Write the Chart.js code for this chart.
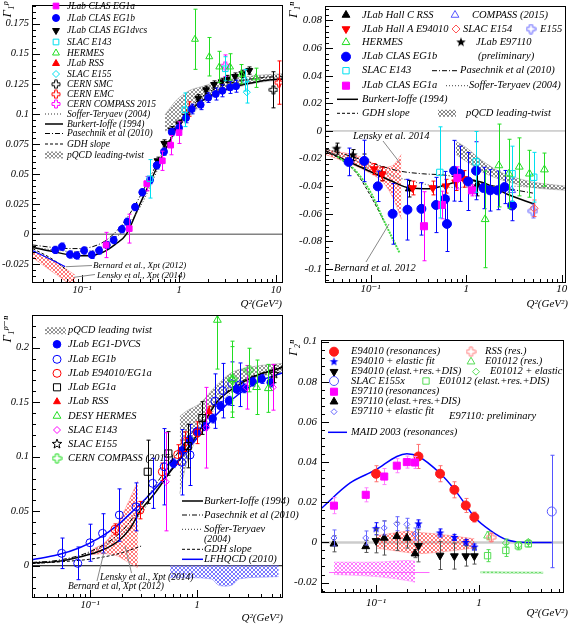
<!DOCTYPE html>
<html>
<head>
<meta charset="utf-8">
<title>Gamma_1 and Gamma_2 moments</title>
<script src="https://cdn.jsdelivr.net/npm/chart.js@4.4.1/dist/chart.umd.min.js"></script>
<style>
  html, body { margin: 0; padding: 0; background: #fff; }
  #page { position: relative; width: 572px; height: 625px; overflow: hidden; }
  #page canvas { position: absolute; left: 0; top: 0; }
</style>
</head>
<body>
<div id="page">
  <canvas id="g1" width="572" height="625"></canvas>
  <canvas id="g2" width="572" height="625"></canvas>
  <canvas id="g3" width="572" height="625"></canvas>
  <canvas id="g4" width="572" height="625"></canvas>
</div>
<script>
// ---------------- tick labels ----------------
const decadeTicks = [0.1, 1, 10];
const decadeLabels = ['10⁻¹', '1', '10'];
const p1YTicks = [-0.025, 0, 0.025, 0.05, 0.075, 0.1, 0.125, 0.15, 0.175];
const p2YTicks = [-0.1, -0.08, -0.06, -0.04, -0.02, 0, 0.02, 0.04, 0.06, 0.08];
const p3YTicks = [0, 0.05, 0.1, 0.15, 0.2];
const p4YTicks = [-0.02, 0, 0.02, 0.04, 0.06, 0.08, 0.1];

// ---------------- panel 1 : Gamma_1 proton ----------------
const p1EG1aQ2 = [0.177, 0.307, 0.465, 0.673, 0.82, 1.0];
const p1EG1aG = [-0.009, 0.0046, 0.042, 0.061, 0.074, 0.0844];
const p1EG1aErr = [0.0105, 0.012, 0.006, 0.008, 0.008, 0.009];
const p1EG1bQ2 = [0.053, 0.062, 0.075, 0.088, 0.105, 0.126, 0.150, 0.180, 0.212, 0.257, 0.293, 0.352, 0.418, 0.502, 0.589, 0.700, 0.841, 1.0, 1.18, 1.35, 1.67, 2.0, 2.39, 2.80, 3.36, 3.87];
const p1EG1bG = [-0.0131, -0.0104, -0.0169, -0.0177, -0.0136, -0.0172, -0.0136, -0.009, -0.0049, 0.0041, 0.0103, 0.0225, 0.0348, 0.0449, 0.0572, 0.0686, 0.0849, 0.0884, 0.0966, 0.104, 0.1075, 0.1135, 0.1165, 0.1192, 0.122, 0.123];
const p1EG1bErr = [0.003, 0.003, 0.003, 0.003, 0.003, 0.003, 0.003, 0.003, 0.003, 0.003, 0.003, 0.003, 0.003, 0.003, 0.003, 0.003, 0.003, 0.004, 0.004, 0.004, 0.004, 0.004, 0.005, 0.005, 0.005, 0.005];
const p1DvcsQ2 = [0.60, 0.705, 0.84, 1.0, 1.18, 1.58, 1.9, 2.3, 2.75, 3.15, 3.78, 4.49, 5.3];
const p1DvcsG = [0.061, 0.0754, 0.0865, 0.0917, 0.098, 0.113, 0.120, 0.1244, 0.1266, 0.129, 0.131, 0.1333, 0.136];
const p1DvcsErr = [0.003, 0.003, 0.003, 0.003, 0.003, 0.003, 0.003, 0.003, 0.003, 0.003, 0.003, 0.003, 0.003];
const p1E143Q2 = [0.5, 1.15, 3.0];
const p1E143G = [0.046, 0.1034, 0.1375];
const p1E143Err = [0.016, 0.014, 0.010];
const p1HermesQ2 = [1.46, 2.05, 2.6, 3.36, 4.4, 6.2];
const p1HermesG = [0.162, 0.1475, 0.139, 0.139, 0.133, 0.130];
const p1HermesErr = [0.025, 0.016, 0.013, 0.011, 0.008, 0.008];
const p1RssQ2 = [1.28], p1RssG = [0.104], p1RssErr = [0.006];
const p1E155Q2 = [4.8, 5.0], p1E155G = [0.128, 0.118], p1E155Err = [0.009, 0.009];
const p1SmcQ2 = [9.4], p1SmcG = [0.120], p1SmcErr = [0.015];
const p1EmcQ2 = [10.7], p1EmcG = [0.126], p1EmcErr = [0.018];
const p1CompassQ2 = [3.0], p1CompassG = [0.140], p1CompassErr = [0.009];

const p1BurkertQ2 = [0.031, 0.05, 0.08, 0.115, 0.16, 0.22, 0.287, 0.395, 0.55, 0.776, 1.0, 1.2, 1.6, 2.2, 3.2, 5.0, 8, 11.8];
const p1BurkertG = [-0.011, -0.0145, -0.0175, -0.018, -0.0155, -0.0085, 0, 0.025, 0.05, 0.075, 0.092, 0.1, 0.109, 0.116, 0.121, 0.125, 0.128, 0.129];
const p1SofferQ2 = [0.031, 0.05, 0.08, 0.12, 0.17, 0.23, 0.3, 0.4, 0.52, 0.7, 1.0, 1.5, 2.5, 4, 7, 11.8];
const p1SofferG = [-0.011, -0.013, -0.0145, -0.014, -0.010, -0.002, 0.008, 0.023, 0.042, 0.066, 0.09, 0.108, 0.12, 0.126, 0.13, 0.132];
const p1PasechnikQ2 = [0.031, 0.05, 0.08, 0.12, 0.17, 0.23, 0.3, 0.4, 0.5, 0.7, 1.0, 1.5, 2.5, 4, 7, 11.8];
const p1PasechnikG = [-0.009, -0.011, -0.012, -0.011, -0.006, 0.003, 0.015, 0.032, 0.047, 0.07, 0.092, 0.11, 0.122, 0.127, 0.13, 0.131];
const p1GdhQ2 = [0.031, 0.05, 0.07];
const p1GdhG = [-0.012, -0.021, -0.030];
const p1BernardQ2 = [0.0305, 0.045, 0.067];
const p1BernardG = [-0.0135, -0.020, -0.027];
const p1LenskyQ2 = [0.0305, 0.045, 0.06, 0.085];
const p1LenskyHi = [-0.014, -0.020, -0.026, -0.034];
const p1LenskyLo = [-0.019, -0.029, -0.036, -0.045];
const p1PqcdQ2 = [0.717, 0.946, 1.3, 1.78, 2.64, 5.8, 11.8];
const p1PqcdHi = [0.0993, 0.1116, 0.1197, 0.123, 0.1274, 0.1317, 0.1334];
const p1PqcdLo = [0.0857, 0.0893, 0.098, 0.1089, 0.1176, 0.1252, 0.1285];

// ---------------- panel 2 : Gamma_1 neutron ----------------
const p2RssQ2 = [0.254, 1.31], p2RssG = [-0.0418, -0.039], p2RssErr = [0.006, 0.008];
const p2E94010Q2 = [0.109, 0.132, 0.275, 0.448, 0.614, 0.776, 0.946];
const p2E94010G = [-0.0276, -0.0312, -0.0413, -0.0413, -0.040, -0.0371, -0.0347];
const p2E94010Err = [0.004, 0.005, 0.005, 0.005, 0.005, 0.006, 0.006];
const p2HermesQ2 = [1.58, 2.2, 2.8, 3.6, 4.6, 6.6];
const p2HermesG = [-0.064, -0.025, -0.031, -0.026, -0.031, -0.028];
const p2HermesErr = [0.035, 0.03, 0.025, 0.021, 0.017, 0.012];
const p2EG1bQ2 = [0.0588, 0.0858, 0.119, 0.170, 0.243, 0.340, 0.484, 0.60, 0.63, 0.748, 0.86, 1.05, 1.27, 1.52, 1.78, 2.13, 2.53, 3.03];
const p2EG1bG = [-0.0224, -0.0217, -0.0401, -0.060, -0.057, -0.0564, -0.0536, -0.0493, -0.0673, -0.0288, -0.031, -0.0366, -0.0288, -0.0413, -0.043, -0.043, -0.0406, -0.054];
const p2EG1bErr = [0.010, 0.015, 0.011, 0.022, 0.022, 0.019, 0.020, 0.020, 0.020, 0.022, 0.020, 0.021, 0.021, 0.015, 0.015, 0.014, 0.012, 0.011];
const p2E143Q2 = [0.53, 1.27, 3.03, 5.1];
const p2E143G = [-0.030, -0.0224, -0.031, -0.0335];
const p2E143Err = [0.033, 0.022, 0.02, 0.018];
const p2EG1aQ2 = [0.362, 0.558, 0.81, 1.15];
const p2EG1aG = [-0.069, -0.0536, -0.034, -0.043];
const p2EG1aErr = [0.025, 0.010, 0.008, 0.004];
const p2E97110Q2 = [0.044, 0.065, 0.086, 0.13];
const p2E97110G = [-0.0128, -0.0175, -0.0217, -0.031];
const p2E97110Err = [0.004, 0.004, 0.005, 0.005];
const p2CompassQ2 = [3.0], p2CompassG = [-0.043], p2CompassErr = [0.008];
const p2E154Q2 = [5.14], p2E154G = [-0.056], p2E154Err = [0.006];
const p2E155Q2 = [5.0], p2E155G = [-0.058], p2E155Err = [0.005];

const p2BurkertQ2 = [0.0334, 0.073, 0.161, 0.258, 0.414, 0.665, 0.984, 1.46, 2.74, 5.14];
const p2BurkertG = [-0.0142, -0.0252, -0.0359, -0.0413, -0.0418, -0.0383, -0.0354, -0.0371, -0.046, -0.0529];
const p2PasechnikQ2 = [0.0334, 0.06, 0.1, 0.2, 0.35, 0.6, 1.0, 2.0, 5.0];
const p2PasechnikG = [-0.013, -0.018, -0.023, -0.029, -0.031, -0.032, -0.035, -0.04, -0.045];
const p2SofferQ2 = [0.0334, 0.06, 0.1, 0.2, 0.4, 0.8, 1.5, 3, 6, 11.1];
const p2SofferG = [-0.015, -0.02, -0.026, -0.034, -0.039, -0.041, -0.040, -0.040, -0.041, -0.042];
const p2GdhQ2 = [0.0334, 0.05, 0.07, 0.1, 0.141];
const p2GdhG = [-0.0147, -0.021, -0.03, -0.047, -0.0666];
const p2BernardQ2 = [0.045, 0.07, 0.1, 0.14, 0.2];
const p2BernardG = [-0.0185, -0.029, -0.0445, -0.066, -0.088];
const p2LenskyQ2 = [0.0334, 0.073, 0.13, 0.17, 0.21];
const p2LenskyHi = [-0.0135, -0.018, -0.026, -0.025, -0.017];
const p2LenskyLo = [-0.017, -0.026, -0.036, -0.048, -0.064];
const p2PqcdQ2 = [0.78, 1.0, 1.5, 2.5, 5, 11.1];
const p2PqcdHi = [-0.0075, -0.012, -0.022, -0.031, -0.037, -0.040];
const p2PqcdLo = [-0.017, -0.022, -0.030, -0.036, -0.041, -0.043];

// ---------------- panel 3 : Gamma_1 p-n ----------------
const p3DvcsQ2 = [0.601, 0.719, 0.847, 0.99, 1.19, 1.40, 1.66, 1.99, 2.35, 2.77, 3.31, 4.02, 4.88];
const p3DvcsG = [0.094, 0.1055, 0.1153, 0.123, 0.128, 0.135, 0.1465, 0.1514, 0.1618, 0.1627, 0.1688, 0.1713, 0.168];
const p3DvcsErr = [0.004, 0.004, 0.004, 0.004, 0.004, 0.004, 0.004, 0.004, 0.004, 0.004, 0.004, 0.004, 0.004];
const p3EG1bQ2 = [0.0544, 0.0768, 0.1, 0.131, 0.188, 0.269, 0.385, 0.494, 0.719, 0.86, 1.47, 1.74, 2.11, 2.52];
const p3EG1bG = [0.0114, 0.0022, 0.0211, 0.0297, 0.0465, 0.054, 0.0756, 0.0908, 0.0949, 0.1016, 0.151, 0.1606, 0.167, 0.166];
const p3EG1bErr = [0.014, 0.015, 0.017, 0.018, 0.024, 0.022, 0.023, 0.035, 0.03, 0.028, 0.025, 0.025, 0.02, 0.02];
const p3E94010Q2 = [0.171, 0.293, 0.474, 0.66, 0.773, 1.01];
const p3E94010G = [0.0334, 0.051, 0.0862, 0.102, 0.1138, 0.122];
const p3E94010Err = [0.005, 0.008, 0.008, 0.009, 0.009, 0.01];
const p3EG1aQ2 = [0.346, 0.54, 0.82, 1.12];
const p3EG1aG = [0.0862, 0.103, 0.1098, 0.1355];
const p3EG1aErr = [0.029, 0.02, 0.02, 0.015];
const p3RssQ2 = [1.29], p3RssG = [0.1413], p3RssErr = [0.005];
const p3HermesQ2 = [1.55, 2.14, 3.6, 4.64];
const p3HermesG = [0.2254, 0.171, 0.1637, 0.1627];
const p3HermesErr = [0.045, 0.035, 0.025, 0.022];
const p3E143Q2 = [0.51, 1.22, 2.9, 5.1];
const p3E143G = [0.077, 0.1266, 0.1637, 0.1637];
const p3E143Err = [0.045, 0.037, 0.02, 0.021];
const p3E155Q2 = [5.25], p3E155G = [0.1759], p3E155Err = [0.008];
const p3CompassQ2 = [2.14, 3.06], p3CompassG = [0.171, 0.1795], p3CompassErr = [0.03, 0.02];

const p3BurkertQ2 = [0.0287, 0.05, 0.08, 0.12, 0.18, 0.24, 0.293, 0.4, 0.55, 0.72, 1.0, 1.53, 2.2, 3.5, 6.36];
const p3BurkertG = [0.0025, 0.004, 0.008, 0.013, 0.022, 0.035, 0.05, 0.066, 0.085, 0.1, 0.12, 0.15, 0.163, 0.174, 0.182];
const p3LfQ2 = [0.0287, 0.05, 0.08, 0.12, 0.18, 0.25, 0.35, 0.5, 0.7, 1.0, 1.5, 2.5, 4, 6.36];
const p3LfG = [0.0055, 0.01, 0.0165, 0.025, 0.037, 0.05, 0.064, 0.081, 0.099, 0.117, 0.138, 0.158, 0.17, 0.177];
const p3PasechnikQ2 = [0.0287, 0.05, 0.1, 0.2, 0.3, 0.45, 0.7, 1.0, 1.5, 2.5, 6.36];
const p3PasechnikG = [0.003, 0.005, 0.013, 0.032, 0.055, 0.08, 0.107, 0.128, 0.15, 0.168, 0.183];
const p3SofferQ2 = [0.0287, 0.05, 0.1, 0.2, 0.3, 0.45, 0.7, 1.0, 1.5, 2.5, 6.36];
const p3SofferG = [0.002, 0.004, 0.012, 0.029, 0.048, 0.074, 0.1, 0.12, 0.145, 0.165, 0.181];
const p3GdhQ2 = [0.0287, 0.06, 0.1, 0.15, 0.2, 0.3];
const p3GdhG = [0.002, 0.004, 0.006, 0.009, 0.012, 0.018];
const p3LenskyQ2 = [0.1, 0.14, 0.18, 0.22, 0.28];
const p3LenskyHi = [0.014, 0.022, 0.038, 0.055, 0.078];
const p3LenskyLo = [0.010, 0.011, 0.009, 0.004, -0.002];
const p3PqcdQ2 = [0.69, 0.8, 1.07, 1.5, 2.18, 3.5, 6.36];
const p3PqcdHi = [0.137, 0.142, 0.149, 0.165, 0.178, 0.183, 0.1857];
const p3PqcdLo = [0.066, 0.094, 0.1245, 0.148, 0.1658, 0.173, 0.1765];
const p3HtQ2 = [0.56, 1.35, 1.6, 2.1, 2.5, 5.8];
const p3HtHi = [0, 0, 0, 0, 0, 0];
const p3HtLo = [-0.011, -0.012, -0.018, -0.018, -0.012, -0.010];

// ---------------- panel 4 : Gamma_2 neutron ----------------
const p4E94010Q2 = [0.1, 0.258, 0.418, 0.576, 0.743, 0.90];
const p4E94010ResG = [0.0342, 0.0428, 0.0342, 0.0262, 0.0184, 0.0126];
const p4E94010ResErr = [0.004, 0.006, 0.004, 0.004, 0.0035, 0.0025];
const p4E94010ElG = [0.0068, 0.0092, 0.0047, 0.0025, 0.0, -0.0023];
const p4E94010ElErr = [0.003, 0.002, 0.002, 0.0015, 0.0015, 0.0015];
const p4E94010TotG = [0.0008, -0.0017, -0.0065, -0.0068, -0.0068, -0.0068];
const p4E94010TotErr = [0.006, 0.008, 0.007, 0.0065, 0.005, 0.004];
const p4E155xQ2 = [5.08], p4E155xG = [0.0154], p4E155xErr = [0.028];
const p4E97110Q2 = [0.039, 0.0794, 0.12, 0.159, 0.199, 0.239];
const p4E97110ResG = [0.0183, 0.0237, 0.0328, 0.0382, 0.040, 0.0398];
const p4E97110ResErr = [0.004, 0.0035, 0.004, 0.0035, 0.003, 0.003];
const p4E97110TotG = [-0.0007, -0.002, 0.0022, 0.003, 0.0022, -0.0056];
const p4E97110TotErr = [0.004, 0.003, 0.0085, 0.007, 0.005, 0.002];
const p4E97110ElG = [0.0022, 0.0022, 0.0072, 0.0093, 0.009, 0.0042];
const p4E97110ElErr = [0.004, 0.0035, 0.0035, 0.0035, 0.003, 0.003];
const p4RssQ2 = [1.31], p4RssG = [0.0025], p4RssErr = [0.002];
const p4E01012ResQ2 = [1.21], p4E01012ResG = [0.0033], p4E01012ResErr = [0.002];
const p4E01012ElQ2 = [1.82, 2.41, 3.01];
const p4E01012ElG = [-0.0003, -0.0012, 0.0003];
const p4E01012ElErr = [0.002, 0.0015, 0.001];
const p4E01012TotQ2 = [1.21, 1.82, 2.41, 3.01];
const p4E01012TotG = [-0.0066, -0.004, -0.0017, -0.0007];
const p4E01012TotErr = [0.003, 0.003, 0.002, 0.0015];
const p4MaidQ2 = [0.0292, 0.056, 0.1, 0.159, 0.199, 0.258, 0.418, 0.576, 0.743, 0.9, 1.28, 1.86, 2.9, 5.08];
const p4MaidG = [0.0168, 0.0296, 0.0362, 0.0428, 0.0441, 0.0428, 0.0344, 0.0264, 0.0186, 0.0126, 0.006, 0.0013, 0.0, 0.0];
const p4RedBandQ2 = [0.1, 0.2, 0.26, 0.42, 0.9];
const p4RedBandHi = [0.0033, 0.0055, 0.005, 0.004, 0.0018];
const p4RedBandLo = [-0.0028, -0.005, -0.0056, -0.0048, -0.0028];
const p4MagBandQ2 = [0.039, 0.1, 0.2, 0.239];
const p4MagBandHi = [-0.0098, -0.0098, -0.009, -0.0094];
const p4MagBandLo = [-0.016, -0.017, -0.019, -0.0199];
const p4MagLineQ2 = [0.035, 0.33], p4MagLineG = [-0.015, -0.015];
const p4GrnBandQ2 = [1.03, 4.2];
const p4GrnBandHi = [-0.0146, -0.0148];
const p4GrnBandLo = [-0.0152, -0.0154];

// ---------------- helpers ----------------
const FONT = '"Liberation Serif", "DejaVu Serif", serif';
const W = 572, H = 625;
Chart.defaults.font.family = FONT;

function xy(xs, ys) { return xs.map(function (x, i) { return { x: x, y: ys[i] }; }); }

function hatch(ctx, color) {
  const c = document.createElement('canvas');
  c.width = 4; c.height = 4;
  const g = c.getContext('2d');
  g.strokeStyle = color; g.lineWidth = 0.7;
  g.beginPath();
  g.moveTo(0, 0); g.lineTo(4, 4);
  g.moveTo(4, 0); g.lineTo(0, 4);
  g.stroke();
  return ctx.createPattern(c, 'repeat');
}

function starImg(color, r, filled) {
  const s = Math.ceil(r * 2 + 2), c = document.createElement('canvas');
  c.width = s; c.height = s;
  const g = c.getContext('2d');
  g.beginPath();
  for (let k = 0; k < 10; k++) {
    const a = -Math.PI / 2 + k * Math.PI / 5, rr = k % 2 ? r * 0.42 : r;
    g.lineTo(s / 2 + rr * Math.cos(a), s / 2 + rr * Math.sin(a));
  }
  g.closePath();
  if (filled) { g.fillStyle = color; g.fill(); } else { g.strokeStyle = color; g.lineWidth = 1; g.stroke(); }
  return c;
}

function crossImg(color, r) {
  const s = Math.ceil(r * 2 + 2), c = document.createElement('canvas');
  c.width = s; c.height = s;
  const g = c.getContext('2d'), o = s / 2, a = r * 0.35;
  g.strokeStyle = color; g.lineWidth = 1;
  g.beginPath();
  g.moveTo(o - a, o - r); g.lineTo(o + a, o - r); g.lineTo(o + a, o - a); g.lineTo(o + r, o - a);
  g.lineTo(o + r, o + a); g.lineTo(o + a, o + a); g.lineTo(o + a, o + r); g.lineTo(o - a, o + r);
  g.lineTo(o - a, o + a); g.lineTo(o - r, o + a); g.lineTo(o - r, o - a); g.lineTo(o - a, o - a);
  g.closePath(); g.stroke();
  return c;
}

function marks(label, xs, ys, errs, color, style, filled, r, extra) {
  return Object.assign({
    label: label, data: xy(xs, ys), errors: errs, showLine: false, order: 0,
    pointStyle: style, pointRadius: r, pointRotation: 0,
    pointBackgroundColor: filled ? color : 'rgba(0,0,0,0)', pointBorderColor: color, pointBorderWidth: 1,
    borderColor: color, backgroundColor: color, errColor: color
  }, extra || {});
}

function curve(label, xs, ys, color, dash, width) {
  return {
    label: label, data: xy(xs, ys), showLine: true, pointRadius: 0, order: 5,
    borderColor: color, borderWidth: width || 1, borderDash: dash || [],
    cubicInterpolationMode: 'monotone', fill: false
  };
}

function band(label, xs, hi, lo, pattern, edge) {
  return [
    { label: label, data: xy(xs, hi), showLine: true, pointRadius: 0, order: 10, swatch: pattern,
      borderColor: edge, borderWidth: 0.5, tension: 0.3, fill: false },
    { label: label + ' lo', data: xy(xs, lo), showLine: true, pointRadius: 0, order: 10,
      borderColor: edge, borderWidth: 0.5, tension: 0.3, fill: '-1', backgroundColor: pattern }
  ];
}

function fmtY(v) { return String(Math.round(v * 1000) / 1000); }
function fmtX(v) {
  const i = decadeTicks.findIndex(function (d) { return Math.abs(d - v) < d * 1e-6; });
  return i < 0 ? '' : decadeLabels[i];
}

// frame, tick marks, zero line, error bars, legends and labels
const deco = {
  id: 'deco',
  beforeDatasetsDraw(chart, args, o) {
    const ctx = chart.ctx, a = chart.chartArea, py = chart.scales.y.getPixelForValue(0);
    ctx.save();
    ctx.strokeStyle = o.zeroColor; ctx.lineWidth = o.zeroWidth;
    ctx.beginPath(); ctx.moveTo(a.left, py); ctx.lineTo(a.right, py); ctx.stroke();
    ctx.restore();
  },
  beforeDatasetDraw(chart, args) {
    const ds = chart.data.datasets[args.index];
    if (!ds.errors) return;
    const ctx = chart.ctx, a = chart.chartArea, ys = chart.scales.y;
    ctx.save();
    ctx.beginPath(); ctx.rect(a.left, a.top, a.right - a.left, a.bottom - a.top); ctx.clip();
    ctx.strokeStyle = ds.errColor; ctx.lineWidth = 1;
    args.meta.data.forEach(function (pt, i) {
      const e = ds.errors[i];
      if (!e) return;
      const v = ds.data[i].y, y1 = ys.getPixelForValue(v + e), y2 = ys.getPixelForValue(v - e);
      const x = Math.round(pt.x) + 0.5;
      ctx.beginPath();
      ctx.moveTo(x, y1); ctx.lineTo(x, y2);
      ctx.moveTo(x - 2, y1); ctx.lineTo(x + 2, y1);
      ctx.moveTo(x - 2, y2); ctx.lineTo(x + 2, y2);
      ctx.stroke();
    });
    ctx.restore();
  },
  afterDatasetsDraw(chart, args, o) {
    const ctx = chart.ctx, a = chart.chartArea, xs = chart.scales.x, ys = chart.scales.y;
    ctx.save();
    ctx.strokeStyle = '#000'; ctx.lineWidth = 1;
    ctx.beginPath();
    const e0 = Math.floor(Math.log10(xs.min)), e1 = Math.ceil(Math.log10(xs.max));
    for (let e = e0; e <= e1; e++) {
      for (let k = 1; k < 10; k++) {
        const v = k * Math.pow(10, e);
        if (v < xs.min || v > xs.max) continue;
        const px = Math.round(xs.getPixelForValue(v)) + 0.5;
        ctx.moveTo(px, a.bottom); ctx.lineTo(px, a.bottom - (k === 1 ? 8 : 4));
      }
    }
    const step = o.yMinor;
    for (let n = Math.ceil(ys.min / step); n <= Math.floor(ys.max / step); n++) {
      const v = n * step, py = Math.round(ys.getPixelForValue(v)) + 0.5;
      const major = ys.ticks.some(function (t) { return Math.abs(t.value - v) < step / 10; });
      ctx.moveTo(a.left, py); ctx.lineTo(a.left + (major ? 8 : 4), py);
    }
    ctx.stroke();
    ctx.strokeRect(a.left + 0.5, a.top + 0.5, a.right - a.left - 1, a.bottom - a.top - 1);
    ctx.restore();
  },
  afterDraw(chart, args, o) {
    const ctx = chart.ctx;
    const find = function (name) { return chart.data.datasets.find(function (d) { return d.label === name; }); };
    ctx.save();
    ctx.textBaseline = 'middle';
    (o.legend || []).forEach(function (it) {
      const ds = find(it.ds);
      if (it.kind === 'm') {
        ctx.fillStyle = ds.pointBackgroundColor; ctx.strokeStyle = ds.pointBorderColor; ctx.lineWidth = 1;
        const opt = { pointStyle: ds.pointStyle, rotation: ds.pointRotation || 0, radius: ds.pointRadius, borderWidth: 1 };
        if (Chart.helpers && Chart.helpers.drawPoint) Chart.helpers.drawPoint(ctx, opt, it.mx, it.y);
        else { ctx.beginPath(); ctx.arc(it.mx, it.y, ds.pointRadius, 0, 2 * Math.PI); ctx.fill(); ctx.stroke(); }
      } else if (it.kind === 'l') {
        ctx.strokeStyle = ds.borderColor; ctx.lineWidth = ds.borderWidth; ctx.setLineDash(ds.borderDash || []);
        ctx.beginPath(); ctx.moveTo(it.x1, it.y); ctx.lineTo(it.x2, it.y); ctx.stroke();
        ctx.setLineDash([]);
      } else if (it.kind === 'b') {
        ctx.fillStyle = ds.swatch; ctx.fillRect(it.x1, it.y - 3.5, it.x2 - it.x1, 7);
      }
      ctx.fillStyle = '#000';
      ctx.font = 'italic ' + o.legendSize + 'px ' + FONT;
      ctx.textAlign = 'left';
      ctx.fillText(it.t !== undefined ? it.t : it.ds, it.tx, it.y);
    });
    (o.lines || []).forEach(function (l) {
      ctx.strokeStyle = '#888'; ctx.lineWidth = 1; ctx.setLineDash([]);
      ctx.beginPath(); ctx.moveTo(l.x1, l.y1); ctx.lineTo(l.x2, l.y2); ctx.stroke();
    });
    (o.texts || []).forEach(function (t) {
      ctx.save();
      ctx.fillStyle = '#000';
      ctx.font = 'italic ' + t.size + 'px ' + FONT;
      ctx.textAlign = t.align || 'left';
      ctx.translate(t.x, t.y);
      if (t.rot) { ctx.rotate(-Math.PI / 2); ctx.textBaseline = 'alphabetic'; }
      ctx.fillText(t.t, 0, 0);
      ctx.restore();
    });
    ctx.restore();
  }
};

// the y scale box spans [0, area.left] and the x scale box spans [area.bottom, H],
// so tick labels sit inside the clip area of their scale
function makeChart(id, cfg) {
  const a = cfg.area;
  return new Chart(document.getElementById(id), {
    type: 'line',
    data: { datasets: cfg.datasets },
    options: {
      responsive: false, animation: false, events: [],
      layout: { padding: { left: 0, top: a[1], right: W - a[2], bottom: 0 } },
      plugins: { legend: { display: false }, tooltip: { enabled: false }, deco: cfg.deco },
      scales: {
        x: {
          type: 'logarithmic', min: cfg.xRange[0], max: cfg.xRange[1],
          grid: { display: false, drawTicks: false }, border: { display: false },
          afterBuildTicks: function (s) { s.ticks = cfg.xTicks.map(function (v) { return { value: v }; }); },
          afterFit: function (s) { s.height = H - a[3]; s.paddingLeft = 0; s.paddingRight = 0; s.paddingTop = 0; s.paddingBottom = 0; },
          ticks: { autoSkip: false, maxRotation: 0, minRotation: 0, padding: cfg.xPad, color: '#000',
            font: { family: FONT, style: 'italic', size: cfg.tickSize }, callback: fmtX }
        },
        y: {
          min: cfg.yRange[0], max: cfg.yRange[1],
          grid: { display: false, drawTicks: false }, border: { display: false },
          afterBuildTicks: function (s) { s.ticks = cfg.yTicks.map(function (v) { return { value: v }; }); },
          afterFit: function (s) { s.width = a[0]; s.paddingLeft = 0; s.paddingRight = 0; s.paddingTop = 0; s.paddingBottom = 0; },
          ticks: { autoSkip: false, padding: cfg.yPad, color: '#000',
            font: { family: FONT, style: 'italic', size: cfg.tickSize }, callback: fmtY }
        }
      }
    },
    plugins: [deco]
  });
}

const ctx1 = document.getElementById('g1').getContext('2d');
const ctx2 = document.getElementById('g2').getContext('2d');
const ctx3 = document.getElementById('g3').getContext('2d');
const ctx4 = document.getElementById('g4').getContext('2d');

const BLUE = '#0000ff', MAG = '#ff00ff', CYAN = '#00e0f0', GRN = '#22dd22', RED = '#ff0000', BLK = '#000000';

// ---------------- panel 1 ----------------
makeChart('g1', {
  area: [32, 0, 283, 283], xRange: [0.0305, 11.8], yRange: [-0.0406, 0.1905],
  xTicks: decadeTicks, yTicks: p1YTicks, tickSize: 10.5, xPad: 1, yPad: 3,
  datasets: [].concat(
    band('pQCD leading-twist', p1PqcdQ2, p1PqcdHi, p1PqcdLo, hatch(ctx1, '#666'), '#999'),
    band('Lensky et al., Xpt (2014)', p1LenskyQ2, p1LenskyHi, p1LenskyLo, hatch(ctx1, '#ff4040'), '#ff9090'),
    [
      curve('Bernard et al., Xpt (2012)', p1BernardQ2, p1BernardG, BLUE, [], 1.2),
      curve('Soffer-Teryaev (2004)', p1SofferQ2, p1SofferG, '#333', [1, 2], 1),
      curve('Burkert-Ioffe (1994)', p1BurkertQ2, p1BurkertG, BLK, [], 1.5),
      curve('Pasechnik et al (2010)', p1PasechnikQ2, p1PasechnikG, BLK, [5, 2, 1, 2], 1),
      curve('GDH slope', p1GdhQ2, p1GdhG, BLK, [3, 2], 1),
      marks('HERMES', p1HermesQ2, p1HermesG, p1HermesErr, GRN, 'triangle', false, 4),
      marks('SLAC E143', p1E143Q2, p1E143G, p1E143Err, CYAN, 'rect', false, 4),
      marks('SLAC E155', p1E155Q2, p1E155G, p1E155Err, CYAN, 'rectRot', false, 3.5),
      marks('CERN SMC', p1SmcQ2, p1SmcG, p1SmcErr, BLK, crossImg(BLK, 4), false, 4),
      marks('CERN EMC', p1EmcQ2, p1EmcG, p1EmcErr, RED, crossImg(RED, 4), false, 4),
      marks('CERN COMPASS 2015', p1CompassQ2, p1CompassG, p1CompassErr, MAG, crossImg(MAG, 4), false, 4),
      marks('JLab CLAS EG1a', p1EG1aQ2, p1EG1aG, p1EG1aErr, MAG, 'rect', true, 4),
      marks('JLab CLAS EG1b', p1EG1bQ2, p1EG1bG, p1EG1bErr, BLUE, 'circle', true, 3.5),
      marks('JLab CLAS EG1dvcs', p1DvcsQ2, p1DvcsG, p1DvcsErr, BLK, 'triangle', true, 4, { pointRotation: 180 }),
      marks('JLab RSS', p1RssQ2, p1RssG, p1RssErr, RED, 'triangle', true, 4)
    ]),
  deco: {
    zeroColor: '#444', zeroWidth: 1, yMinor: 0.005, legendSize: 9.5,
    legend: [
      { kind: 'm', ds: 'JLab CLAS EG1a', mx: 56, tx: 67, y: 6 },
      { kind: 'm', ds: 'JLab CLAS EG1b', mx: 56, tx: 67, y: 18 },
      { kind: 'm', ds: 'JLab CLAS EG1dvcs', mx: 56, tx: 67, y: 30.5 },
      { kind: 'm', ds: 'SLAC E143', mx: 56, tx: 67, y: 42 },
      { kind: 'm', ds: 'HERMES', mx: 56, tx: 67, y: 53 },
      { kind: 'm', ds: 'JLab RSS', mx: 56, tx: 67, y: 63.5 },
      { kind: 'm', ds: 'SLAC E155', mx: 56, tx: 67, y: 74 },
      { kind: 'm', ds: 'CERN SMC', mx: 56, tx: 67, y: 84.3 },
      { kind: 'm', ds: 'CERN EMC', mx: 56, tx: 67, y: 94.3 },
      { kind: 'm', ds: 'CERN COMPASS 2015', mx: 56, tx: 67, y: 104 },
      { kind: 'l', ds: 'Soffer-Teryaev (2004)', x1: 45, x2: 63, tx: 67, y: 114 },
      { kind: 'l', ds: 'Burkert-Ioffe (1994)', x1: 45, x2: 63, tx: 67, y: 124 },
      { kind: 'l', ds: 'Pasechnik et al (2010)', x1: 45, x2: 63, tx: 67, y: 133.5 },
      { kind: 'l', ds: 'GDH slope', x1: 45, x2: 63, tx: 67, y: 144 },
      { kind: 'b', ds: 'pQCD leading-twist', x1: 45, x2: 63, tx: 67, y: 155 }
    ],
    lines: [
      { x1: 66, y1: 266.7, x2: 92, y2: 265.5 },
      { x1: 74, y1: 277.3, x2: 95, y2: 274.5 }
    ],
    texts: [
      { t: 'Bernard et al., Xpt (2012)', x: 93, y: 265.7, size: 9 },
      { t: 'Lensky et al., Xpt (2014)', x: 97, y: 275.5, size: 9 },
      { t: 'Γ₁ᵖ', x: 11, y: 2, size: 13, align: 'right', rot: true },
      { t: 'Q²(GeV²)', x: 282, y: 304, size: 11, align: 'right' }
    ]
  }
});

// ---------------- panel 2 ----------------
makeChart('g2', {
  area: [325, 0, 571, 283], xRange: [0.0333, 11.1], yRange: [-0.1101, 0.0905],
  xTicks: decadeTicks, yTicks: p2YTicks, tickSize: 11, xPad: 0, yPad: 3,
  datasets: [].concat(
    band('pQCD leading-twist', p2PqcdQ2, p2PqcdHi, p2PqcdLo, hatch(ctx2, '#555'), '#999'),
    band('Lensky et al. 2014', p2LenskyQ2, p2LenskyHi, p2LenskyLo, hatch(ctx2, '#ff4040'), '#ff9090'),
    [
      curve('Bernard et al. 2012', p2BernardQ2, p2BernardG, '#44dd44', [2, 1], 2),
      curve('Soffer-Teryaev (2004)', p2SofferQ2, p2SofferG, '#666', [1, 2], 1.2),
      curve('Pasechnik et al (2010)', p2PasechnikQ2, p2PasechnikG, BLK, [5, 2, 1, 2], 1),
      curve('GDH slope', p2GdhQ2, p2GdhG, BLK, [3, 2], 1),
      curve('Burkert-Ioffe (1994)', p2BurkertQ2, p2BurkertG, BLK, [], 1.5),
      marks('HERMES', p2HermesQ2, p2HermesG, p2HermesErr, GRN, 'triangle', false, 4.5),
      marks('SLAC E143', p2E143Q2, p2E143G, p2E143Err, CYAN, 'rect', false, 4.5),
      marks('COMPASS (2015)', p2CompassQ2, p2CompassG, p2CompassErr, '#5555ff', 'triangle', false, 4.5),
      marks('SLAC E154', p2E154Q2, p2E154G, p2E154Err, '#ff5555', 'rectRot', false, 4),
      marks('E155', p2E155Q2, p2E155G, p2E155Err, '#6666ff', crossImg('#6666ff', 4.5), false, 4.5),
      marks('JLab CLAS EG1a', p2EG1aQ2, p2EG1aG, p2EG1aErr, MAG, 'rect', true, 5),
      marks('JLab CLAS EG1b', p2EG1bQ2, p2EG1bG, p2EG1bErr, BLUE, 'circle', true, 4.5),
      marks('JLab Hall A E94010', p2E94010Q2, p2E94010G, p2E94010Err, RED, 'triangle', true, 4.5, { pointRotation: 180 }),
      marks('JLab Hall C RSS', p2RssQ2, p2RssG, p2RssErr, BLK, 'triangle', true, 4.5),
      marks('JLab E97110', p2E97110Q2, p2E97110G, p2E97110Err, BLK, starImg(BLK, 5, true), true, 5)
    ]),
  deco: {
    zeroColor: '#aaa', zeroWidth: 1, yMinor: 0.004, legendSize: 10.5,
    legend: [
      { kind: 'm', ds: 'JLab Hall C RSS', mx: 346, tx: 362, y: 15 },
      { kind: 'm', ds: 'JLab Hall A E94010', mx: 346, tx: 362, y: 29 },
      { kind: 'm', ds: 'HERMES', mx: 346, tx: 362, y: 42.3 },
      { kind: 'm', ds: 'JLab CLAS EG1b', mx: 346, tx: 362, y: 56.7 },
      { kind: 'm', ds: 'SLAC E143', mx: 346, tx: 362, y: 70.7 },
      { kind: 'm', ds: 'JLab CLAS EG1a', mx: 346, tx: 362, y: 85.7 },
      { kind: 'l', ds: 'Burkert-Ioffe (1994)', x1: 337, x2: 358, tx: 362, y: 99.3 },
      { kind: 'l', ds: 'GDH slope', x1: 337, x2: 358, tx: 362, y: 113.3 },
      { kind: 'm', ds: 'COMPASS (2015)', mx: 455, tx: 472, y: 15 },
      { kind: 'm', ds: 'SLAC E154', mx: 456, tx: 463, y: 29 },
      { kind: 'm', ds: 'E155', mx: 531, tx: 540, y: 29 },
      { kind: 'm', ds: 'JLab E97110', mx: 461, tx: 476, y: 42.3 },
      { kind: 'l', ds: 'Pasechnik et al (2010)', x1: 432, x2: 458, tx: 460, y: 70.7 },
      { kind: 'l', ds: 'Soffer-Teryaev (2004)', x1: 446, x2: 468, tx: 469, y: 85.7 },
      { kind: 'b', ds: 'pQCD leading-twist', x1: 438, x2: 456, tx: 466, y: 113.3 }
    ],
    lines: [
      { x1: 383, y1: 141, x2: 400, y2: 163 },
      { x1: 366, y1: 262, x2: 389, y2: 224 }
    ],
    texts: [
      { t: '(preliminary)', x: 478, y: 56.7, size: 10.5 },
      { t: 'Lensky et al. 2014', x: 353, y: 136.5, size: 10.5 },
      { t: 'Bernard et al. 2012', x: 334, y: 268.3, size: 10.5 },
      { t: 'Γ₁ⁿ', x: 297, y: 2, size: 13, align: 'right', rot: true },
      { t: 'Q²(GeV²)', x: 568, y: 304, size: 11, align: 'right' }
    ]
  }
});

// ---------------- panel 3 ----------------
makeChart('g3', {
  area: [32, 315, 283, 598], xRange: [0.0287, 6.36], yRange: [-0.0296, 0.2300],
  xTicks: [0.1, 1], yTicks: p3YTicks, tickSize: 10.5, xPad: 1, yPad: 3,
  datasets: [].concat(
    band('pQCD leading twist', p3PqcdQ2, p3PqcdHi, p3PqcdLo, hatch(ctx3, '#666'), '#999'),
    band('Lensky et al., Xpt (2014)', p3LenskyQ2, p3LenskyHi, p3LenskyLo, hatch(ctx3, '#ff4040'), '#ff9090'),
    band('LFHQCD higher twist', p3HtQ2, p3HtHi, p3HtLo, hatch(ctx3, '#4040ff'), '#8080ff'),
    [
      curve('GDH slope', p3GdhQ2, p3GdhG, BLK, [3, 2], 1),
      curve('Soffer-Teryaev (2004)', p3SofferQ2, p3SofferG, '#333', [1, 2], 1),
      curve('Pasechnik et al (2010)', p3PasechnikQ2, p3PasechnikG, BLK, [5, 2, 1, 2], 1),
      curve('Burkert-Ioffe (1994)', p3BurkertQ2, p3BurkertG, BLK, [], 1.5),
      curve('LFHQCD (2010)', p3LfQ2, p3LfG, BLUE, [], 1.5),
      marks('DESY HERMES', p3HermesQ2, p3HermesG, p3HermesErr, GRN, 'triangle', false, 4.5),
      marks('CERN COMPASS (2015)', p3CompassQ2, p3CompassG, p3CompassErr, GRN, crossImg(GRN, 4.5), false, 4.5),
      marks('SLAC E143', p3E143Q2, p3E143G, p3E143Err, MAG, 'rectRot', false, 3.5),
      marks('SLAC E155', p3E155Q2, p3E155G, p3E155Err, BLK, starImg(BLK, 5, false), false, 5),
      marks('JLab EG1a', p3EG1aQ2, p3EG1aG, p3EG1aErr, BLK, 'rect', false, 5),
      marks('JLab EG1b', p3EG1bQ2, p3EG1bG, p3EG1bErr, BLUE, 'circle', false, 4),
      marks('JLab E94010/EG1a', p3E94010Q2, p3E94010G, p3E94010Err, RED, 'circle', false, 4),
      marks('JLab EG1-DVCS', p3DvcsQ2, p3DvcsG, p3DvcsErr, BLUE, 'circle', true, 3.8),
      marks('JLab RSS', p3RssQ2, p3RssG, p3RssErr, RED, 'triangle', true, 4)
    ]),
  deco: {
    zeroColor: '#000', zeroWidth: 1, yMinor: 0.01, legendSize: 10.5,
    legend: [
      { kind: 'b', ds: 'pQCD leading twist', x1: 45, x2: 66, tx: 68, y: 330.7 },
      { kind: 'm', ds: 'JLab EG1-DVCS', mx: 57, tx: 68, y: 344.3 },
      { kind: 'm', ds: 'JLab EG1b', mx: 57, tx: 68, y: 359.3 },
      { kind: 'm', ds: 'JLab E94010/EG1a', mx: 57, tx: 68, y: 373.3 },
      { kind: 'm', ds: 'JLab EG1a', mx: 57, tx: 68, y: 387.3 },
      { kind: 'm', ds: 'JLab RSS', mx: 57, tx: 68, y: 401.7 },
      { kind: 'm', ds: 'DESY HERMES', mx: 57, tx: 68, y: 416 },
      { kind: 'm', ds: 'SLAC E143', mx: 57, tx: 68, y: 430 },
      { kind: 'm', ds: 'SLAC E155', mx: 57, tx: 68, y: 444 },
      { kind: 'm', ds: 'CERN COMPASS (2015)', mx: 57, tx: 68, y: 458.3 },
      { kind: 'l', ds: 'Burkert-Ioffe (1994)', x1: 182, x2: 203, tx: 204, y: 501 },
      { kind: 'l', ds: 'Pasechnik et al (2010)', x1: 182, x2: 203, tx: 204, y: 515 },
      { kind: 'l', ds: 'Soffer-Teryaev (2004)', x1: 182, x2: 203, tx: 204, y: 529.3, t: 'Soffer-Teryaev' },
      { kind: 'l', ds: 'GDH slope', x1: 182, x2: 203, tx: 204, y: 549.3 },
      { kind: 'l', ds: 'LFHQCD (2010)', x1: 182, x2: 203, tx: 204, y: 559.3 }
    ],
    lines: [
      { x1: 131.5, y1: 573, x2: 125, y2: 546 },
      { x1: 97, y1: 581, x2: 104, y2: 552 }
    ],
    texts: [
      { t: '(2004)', x: 204, y: 539.3, size: 10 },
      { t: 'Lensky et al., Xpt (2014)', x: 100, y: 577, size: 9.5 },
      { t: 'Bernard et al, Xpt (2012)', x: 68, y: 586, size: 9.5 },
      { t: 'Γ₁ᵖ⁻ⁿ', x: 11, y: 316, size: 13, align: 'right', rot: true },
      { t: 'Q²(GeV²)', x: 283, y: 618, size: 11, align: 'right' }
    ]
  }
});

// ---------------- panel 4 ----------------
makeChart('g4', {
  area: [321, 340, 564, 593], xRange: [0.0292, 6.68], yRange: [-0.0252, 0.1008],
  xTicks: [0.1, 1], yTicks: p4YTicks, tickSize: 11, xPad: 4, yPad: 4,
  datasets: [].concat(
    band('E94010 systematic', p4RedBandQ2, p4RedBandHi, p4RedBandLo, hatch(ctx4, '#ff4040'), '#ff8080'),
    band('E97110 systematic', p4MagBandQ2, p4MagBandHi, p4MagBandLo, hatch(ctx4, '#ff40ff'), '#ff80ff'),
    band('E01012 systematic', p4GrnBandQ2, p4GrnBandHi, p4GrnBandLo, hatch(ctx4, '#33cc33'), '#66dd66'),
    [
      curve('E97110 systematic line', p4MagLineQ2, p4MagLineG, '#ff66ff', [], 1),
      curve('MAID 2003 (resonances)', p4MaidQ2, p4MaidG, BLUE, [], 1.5),
      marks('SLAC E155x', p4E155xQ2, p4E155xG, p4E155xErr, '#5555ff', 'circle', false, 4.5),
      marks('RSS (res.)', p4RssQ2, p4RssG, p4RssErr, '#ff8080', crossImg('#ff8080', 4.5), false, 4.5),
      marks('E01012 (res.)', p4E01012ResQ2, p4E01012ResG, p4E01012ResErr, '#55dd55', 'triangle', false, 4.5),
      marks('E01012 + elastic', p4E01012ElQ2, p4E01012ElG, p4E01012ElErr, '#55dd55', 'rectRot', false, 3.5),
      marks('E01012 (elast.+res.+DIS)', p4E01012TotQ2, p4E01012TotG, p4E01012TotErr, '#55dd55', 'rect', false, 4.5),
      marks('E97110 + elastic fit', p4E97110Q2, p4E97110ElG, p4E97110ElErr, '#6666ff', 'rectRot', false, 3),
      marks('E97110 (elast.+res.+DIS)', p4E97110Q2, p4E97110TotG, p4E97110TotErr, BLK, 'triangle', true, 4.5, { errColor: '#555' }),
      marks('E94010 (elast.+res.+DIS)', p4E94010Q2, p4E94010TotG, p4E94010TotErr, BLK, 'triangle', true, 4.5, { pointRotation: 180, errColor: '#555' }),
      marks('E94010 + elastic fit', p4E94010Q2, p4E94010ElG, p4E94010ElErr, BLUE, starImg(BLUE, 4.5, true), true, 4.5),
      marks('E97110 (resonances)', p4E97110Q2, p4E97110ResG, p4E97110ResErr, MAG, 'rect', true, 5, { errColor: '#ff80ff' }),
      marks('E94010 (resonances)', p4E94010Q2, p4E94010ResG, p4E94010ResErr, '#ff1a1a', 'circle', true, 4.5, { errColor: '#ff7070' })
    ]),
  deco: {
    zeroColor: '#cccccc', zeroWidth: 2.5, yMinor: 0.004, legendSize: 10.5,
    legend: [
      { kind: 'm', ds: 'E94010 (resonances)', mx: 334, tx: 351, y: 351.7 },
      { kind: 'm', ds: 'E94010 + elastic fit', mx: 334, tx: 351, y: 361.7 },
      { kind: 'm', ds: 'E94010 (elast.+res.+DIS)', mx: 334, tx: 351, y: 371.7 },
      { kind: 'm', ds: 'SLAC E155x', mx: 334, tx: 351, y: 381 },
      { kind: 'm', ds: 'E97110 (resonances)', mx: 334, tx: 351, y: 391.7 },
      { kind: 'm', ds: 'E97110 (elast.+res.+DIS)', mx: 334, tx: 351, y: 401.7 },
      { kind: 'm', ds: 'E97110 + elastic fit', mx: 334, tx: 351, y: 411.7 },
      { kind: 'l', ds: 'MAID 2003 (resonances)', x1: 328, x2: 347, tx: 351, y: 432.3 },
      { kind: 'm', ds: 'RSS (res.)', mx: 471, tx: 485, y: 351.7 },
      { kind: 'm', ds: 'E01012 (res.)', mx: 471, tx: 485, y: 361.7 },
      { kind: 'm', ds: 'E01012 + elastic', mx: 476, tx: 490, y: 371.7 },
      { kind: 'm', ds: 'E01012 (elast.+res.+DIS)', mx: 426, tx: 439, y: 381 }
    ],
    lines: [],
    texts: [
      { t: 'E97110: preliminary', x: 449, y: 416.7, size: 10.5 },
      { t: 'Γ₂ⁿ', x: 297, y: 340, size: 13, align: 'right', rot: true },
      { t: 'Q²(GeV²)', x: 568, y: 613, size: 11, align: 'right' }
    ]
  }
});
</script>
</body>
</html>
